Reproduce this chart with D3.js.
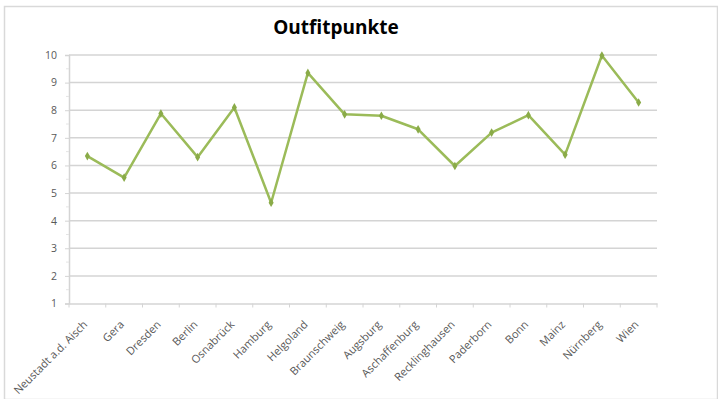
<!DOCTYPE html>
<html><head><meta charset="utf-8">
<script src="https://cdn.jsdelivr.net/npm/d3@7"></script>
<style>body{margin:0;background:#fff}svg{display:block}</style>
</head><body><svg id="c" width="718" height="399"></svg>
<script>
const categories = ["Neustadt a.d. Aisch","Gera","Dresden","Berlin","Osnabrück","Hamburg","Helgoland","Braunschweig","Augsburg","Aschaffenburg","Recklinghausen","Paderborn","Bonn","Mainz","Nürnberg","Wien"];
const values = [6.34,5.56,7.88,6.30,8.10,4.65,9.35,7.85,7.80,7.31,5.98,7.19,7.82,6.39,9.98,8.28];
const yTicks = [1,2,3,4,5,6,7,8,9,10];
const title = "Outfitpunkte";

const svg = d3.select("#c");
const W = 718, H = 399;
const m = {l:69, r:61, t:55, b:95};
const font = "'Open Sans', 'Liberation Sans', sans-serif";

svg.append("rect").attr("x",4.5).attr("y",6.5).attr("width",W-5).attr("height",H-6)
  .attr("fill","#fff").attr("stroke","#d9d9d9").attr("stroke-width",1.5);

const x = d3.scaleBand().domain(categories).range([m.l, W-m.r]).paddingInner(0).paddingOuter(0);
const y = d3.scaleLinear().domain([1,10]).range([H-m.b-0.5, m.t]);

// gridlines
svg.append("g").selectAll("line").data(yTicks.filter(d=>d>1)).join("line")
  .attr("x1",m.l).attr("x2",W-m.r).attr("y1",d=>y(d)).attr("y2",d=>y(d))
  .attr("stroke","#d4d4d4").attr("stroke-width",1.5);

// y axis
const ya = svg.append("g").attr("transform",`translate(${m.l},0)`)
  .call(d3.axisLeft(y).tickValues(yTicks).tickSize(4).tickPadding(8));
ya.select(".domain").attr("stroke","#d4d4d4").attr("stroke-width",1.5);
ya.selectAll(".tick line").attr("stroke","#d4d4d4");
ya.selectAll("text").attr("font-family",font).attr("font-size",10.5).attr("fill","#595959");
// minor ticks
svg.append("g").selectAll("line").data(d3.range(1.5,10,1)).join("line")
  .attr("x1",m.l-3).attr("x2",m.l).attr("y1",d=>y(d)).attr("y2",d=>y(d))
  .attr("stroke","#e4e4e4");

// x axis
const xa = svg.append("g").attr("transform",`translate(0,${y(1)})`)
  .call(d3.axisBottom(x).tickSize(0).tickPadding(0));
xa.select(".domain").attr("stroke","#d4d4d4").attr("stroke-width",1.5);
xa.selectAll(".tick text").attr("font-family",font).attr("font-size",11).attr("fill","#595959")
  .attr("text-anchor","end").attr("y",0).attr("dy","0.35em")
  .attr("transform","translate(-2,19) rotate(-45)");
// category boundary ticks
const bounds = categories.map(c=>x(c)).concat([W-m.r]);
svg.append("g").selectAll("line").data(bounds).join("line")
  .attr("x1",d=>d).attr("x2",d=>d).attr("y1",y(1)).attr("y2",y(1)+4)
  .attr("stroke","#d4d4d4");

// line
const cx = d=>x(d)+x.bandwidth()/2;
const line = d3.line().x((d,i)=>cx(categories[i])).y(d=>y(d));
svg.append("path").datum(values).attr("d",line).attr("fill","none")
  .attr("stroke","#9bbb59").attr("stroke-width",2.5).attr("stroke-linejoin","round");
svg.append("g").selectAll("path").data(values).join("path")
  .attr("d",d3.symbol(d3.symbolDiamond,22)())
  .attr("transform",(d,i)=>`translate(${cx(categories[i])},${y(d)})`)
  .attr("fill","#8aab48");

svg.append("text").attr("x",336).attr("y",34).attr("text-anchor","middle")
  .attr("font-family",font).attr("font-weight","bold").attr("font-size",19).attr("fill","#000")
  .text(title);
</script></body></html>
